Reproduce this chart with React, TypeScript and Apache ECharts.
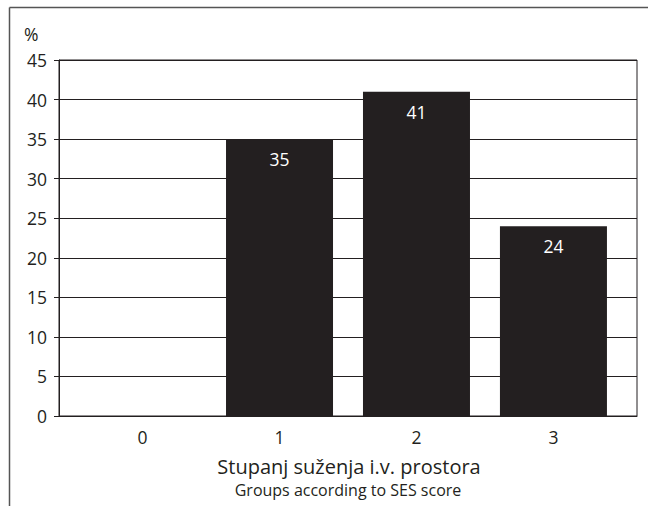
import React, { useEffect, useRef } from "react";
import * as echarts from "echarts";

const categories = ["0", "1", "2", "3"];
const values = [0, 35, 41, 24];
const yTicks = [0, 5, 10, 15, 20, 25, 30, 35, 40, 45];
const xTitle = "Stupanj suženja i.v. prostora";
const xSubtitle = "Groups according to SES score";
const yUnit = "%";

const FONT = "'Open Sans', 'Noto Sans', sans-serif";
const INK = "#231f20";

export default function App() {
  const ref = useRef<HTMLDivElement>(null);
  useEffect(() => {
    if (!ref.current) return;
    const chart = echarts.init(ref.current, undefined, { renderer: "svg" });
    chart.setOption({
      animation: false,
      backgroundColor: "#ffffff",
      textStyle: { fontFamily: FONT },
      grid: {
        left: 59,
        top: 60,
        right: 11,
        bottom: 90,
        show: true,
        borderColor: INK,
        borderWidth: 1,
      },
      xAxis: {
        type: "value",
        min: -0.61,
        max: 3.61,
        axisLine: { show: true, onZero: false, lineStyle: { color: INK, width: 1 } },
        axisTick: { show: false },
        splitLine: { show: false },
        axisLabel: {
          customValues: categories.map((_, i) => i),
          formatter: (v: number) => categories[Math.round(v)] ?? "",
          fontSize: 17.5,
          color: INK,
          margin: 12,
          fontFamily: FONT,
        },
      },
      yAxis: {
        type: "value",
        min: yTicks[0],
        max: yTicks[yTicks.length - 1],
        interval: yTicks[1] - yTicks[0],
        axisLine: { show: true, onZero: false, lineStyle: { color: INK, width: 1 } },
        axisTick: { show: true, length: 5, lineStyle: { color: INK } },
        splitLine: { show: true, lineStyle: { color: INK, width: 1 } },
        axisLabel: { fontSize: 17.5, color: INK, margin: 12, fontFamily: FONT },
      },
      series: [
        {
          type: "bar",
          barWidth: 107,
          data: values.map((v, i) => [i, v]),
          itemStyle: { color: INK },
          label: {
            show: true,
            position: "insideTop",
            distance: 11,
            color: "#ffffff",
            fontSize: 17.5,
            fontFamily: FONT,
            formatter: (p: any) => (p.value[1] ? String(p.value[1]) : ""),
          },
        },
      ],
      graphic: [
        {
          type: "line",
          shape: { x1: 9.5, y1: 7.5, x2: 648, y2: 7.5 },
          style: { stroke: "#555555", lineWidth: 1.5 },
          silent: true,
        },
        {
          type: "line",
          shape: { x1: 9.5, y1: 7.5, x2: 9.5, y2: 506 },
          style: { stroke: "#555555", lineWidth: 1.5 },
          silent: true,
        },
        {
          type: "text",
          x: 24,
          y: 34,
          style: { text: yUnit, fontSize: 17.5, fill: INK, fontFamily: FONT, verticalAlign: "middle" },
        },
        {
          type: "text",
          x: 349,
          y: 466,
          style: {
            text: xTitle,
            fontSize: 20,
            fill: INK,
            fontFamily: FONT,
            align: "center",
            verticalAlign: "middle",
          },
        },
        {
          type: "text",
          x: 348,
          y: 490,
          style: {
            text: xSubtitle,
            fontSize: 16,
            fill: INK,
            fontFamily: FONT,
            align: "center",
            verticalAlign: "middle",
          },
        },
      ],
    });
    return () => chart.dispose();
  }, []);
  return (
    <div
      ref={ref}
      style={{ position: "fixed", left: 0, top: 0, width: 648, height: 506 }}
    />
  );
}
